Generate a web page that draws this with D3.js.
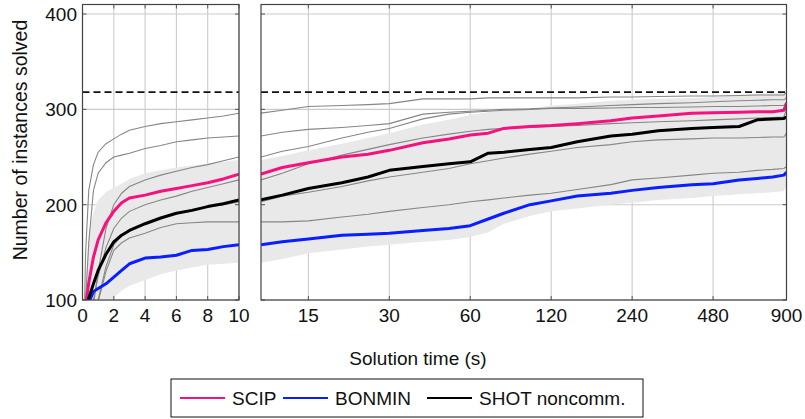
<!DOCTYPE html>
<html>
<head>
<meta charset="utf-8">
<script src="https://cdn.jsdelivr.net/npm/d3@7"></script>
<style>
  body { margin: 0; background: #fff; }
  text { font-family: "Liberation Sans", Arial, sans-serif; fill: #111; }
</style>
</head>
<body>
<div id="chart"></div>
<script>
// time grid (s) shared by all series
var times = [0.1, 0.2, 0.4, 0.7, 1, 1.5, 2, 2.5, 3, 4, 5, 6, 7, 8, 9, 10, 12, 15, 20, 25, 30, 40, 50, 60, 70, 80, 100, 120, 150, 200, 240, 300, 400, 480, 600, 700, 800, 880, 900];

var scip   = [80, 95, 118, 145, 163, 181, 193, 202, 207, 210, 214, 217, 220, 223, 227, 232, 239, 244, 250, 253, 257, 265, 269, 273, 275, 280, 282, 283, 285, 288, 291, 293, 296, 296.5, 297, 297.5, 297.5, 299, 306];
var bonmin = [80, 88, 97, 109, 112, 117, 124, 131, 138, 144, 145, 147, 152, 153, 156, 158, 161, 164, 168, 169, 170, 173, 175, 178, 185, 191, 200, 204, 209, 212, 215, 218, 221, 222, 226, 227.5, 229, 231, 234];
var shot   = [80, 90, 102, 117, 131, 148, 161, 168, 173, 180, 186, 191, 194, 198, 201, 205, 210, 217, 223, 229, 236, 240, 243, 245, 254, 255, 258, 260, 266, 272, 274, 277.5, 280, 281, 282, 289, 290, 290.5, 292];

// other solvers (thin grey)
var others = [
  [70, 150, 215, 242, 255, 264, 269, 274, 278, 282, 285, 287, 289, 291, 293, 296, 299, 303, 304, 305, 306, 311, 311, 311, 312, 312, 312, 312, 312, 313, 313, 313.5, 314, 314, 314.5, 315, 315, 315, 318],
  [70, 100, 160, 215, 233, 244, 250, 252, 254, 259, 262, 266, 268, 270, 271, 272, 276, 279, 281, 283, 285, 295, 297, 298, 299, 300, 300.5, 301.5, 302.5, 304, 305, 306, 307, 308, 309, 309.5, 310, 310, 312],
  [70, 75, 85, 95, 130, 175, 200, 212, 219, 226, 231, 235, 239, 242, 246, 250, 256, 261, 270, 276, 280, 290, 295, 297, 298, 299, 300, 301, 301, 301.5, 302, 302, 302.5, 303, 303, 303.5, 304, 304, 308],
  [70, 75, 85, 100, 125, 155, 175, 186, 193, 200, 205, 209, 214, 218, 222, 226, 233, 243, 252, 258, 263, 270, 274, 277, 279, 280, 281, 282, 283, 285, 286, 287, 288, 289, 290, 291, 291.5, 292, 300],
  [70, 75, 80, 88, 100, 135, 158, 167, 172, 180, 186, 191, 195, 198, 200, 203, 209, 213, 219, 225, 229, 234, 238, 243, 246, 249, 253, 256, 260, 263, 266, 268, 269, 270, 270, 270.5, 271, 271, 275],
  [70, 75, 80, 88, 98, 130, 152, 160, 165, 170, 176, 180, 181, 182, 182, 182, 182, 183, 187, 190, 193, 197, 200, 203, 205, 207, 210, 212, 216, 221, 226, 228, 231, 233, 234, 236, 237, 238, 240]
];

// shaded range
var bandLow  = [90, 92, 94, 96, 97, 99, 102, 110, 115, 121, 127, 131, 134, 137, 138, 139, 143, 149, 153, 156, 158, 161, 163, 166, 171, 180, 188, 193, 196, 200, 202, 205, 207, 209, 211, 212, 213, 214, 220];
var bandHigh = [95, 110, 170, 192, 205, 213, 218, 222, 227, 233, 236, 239, 241, 243, 245, 247, 251, 257, 264, 270, 275, 284, 289, 294, 297, 299, 301, 304, 306, 309, 310, 311, 312, 313, 315, 316, 317, 317, 318];

var totalInstances = 318;
var yTicks = [100, 200, 300, 400];
var leftTicks = [0, 2, 4, 6, 8, 10];
var rightTicks = [15, 30, 60, 120, 240, 480, 900];

var series = [
  {name: "SCIP", values: scip, color: "#f5127e"},
  {name: "BONMIN", values: bonmin, color: "#0a1eff"},
  {name: "SHOT noncomm.", values: shot, color: "#000000"}
];

var W = 805, H = 419;
var svg = d3.select("#chart").append("svg")
  .attr("width", W)
  .attr("height", H);

var y = d3.scaleLinear().domain([100, 410]).range([300, 4.5]);

var panels = [
  {id: "l", x: d3.scaleLinear().domain([0, 10]).range([82.5, 239]), ticks: leftTicks, lo: 0, hi: 10},
  {id: "r", x: d3.scaleLog().domain([10, 900]).range([261, 786.5]), ticks: rightTicks, lo: 10, hi: 900}
];

panels.forEach(function(p) {
  var x = p.x;
  var x0 = x.range()[0], x1 = x.range()[1];
  var g = svg.append("g");

  svg.append("clipPath").attr("id", "clip-" + p.id)
    .append("rect")
    .attr("x", x0).attr("y", y.range()[1])
    .attr("width", x1 - x0).attr("height", y.range()[0] - y.range()[1]);

  // grid
  g.selectAll(".vg").data(p.ticks).enter().append("line")
    .attr("x1", function(d) { return x(d); }).attr("x2", function(d) { return x(d); })
    .attr("y1", y.range()[1]).attr("y2", y.range()[0])
    .attr("stroke", "#cbcbcb").attr("stroke-width", 1.1);
  g.selectAll(".hg").data(yTicks).enter().append("line")
    .attr("x1", x0).attr("x2", x1)
    .attr("y1", function(d) { return y(d); }).attr("y2", function(d) { return y(d); })
    .attr("stroke", "#cbcbcb").attr("stroke-width", 1.1);

  var plot = g.append("g").attr("clip-path", "url(#clip-" + p.id + ")");

  // indices of the time grid inside this panel
  var idx = d3.range(times.length).filter(function(i) {
    return times[i] >= p.lo && times[i] <= p.hi;
  });

  var area = d3.area()
    .x(function(i) { return x(times[i]); })
    .y0(function(i) { return y(bandLow[i]); })
    .y1(function(i) { return y(bandHigh[i]); });
  plot.append("path").datum(idx)
    .attr("d", area)
    .attr("fill", "#e9e9e9");

  function lineOf(vals) {
    return d3.line()
      .x(function(i) { return x(times[i]); })
      .y(function(i) { return y(vals[i]); })(idx);
  }

  others.forEach(function(o) {
    plot.append("path")
      .attr("d", lineOf(o))
      .attr("fill", "none")
      .attr("stroke", "#868686")
      .attr("stroke-width", 1.1);
  });

  // dashed line: number of instances
  plot.append("line")
    .attr("x1", x0).attr("x2", x1)
    .attr("y1", y(totalInstances)).attr("y2", y(totalInstances))
    .attr("stroke", "#111")
    .attr("stroke-width", 1.8)
    .attr("stroke-dasharray", "7,4");

  series.forEach(function(s) {
    plot.append("path")
      .attr("d", lineOf(s.values))
      .attr("fill", "none")
      .attr("stroke", s.color)
      .attr("stroke-width", 3)
      .attr("stroke-linejoin", "round");
  });

  // inward ticks
  p.ticks.forEach(function(t) {
    g.append("line").attr("x1", x(t)).attr("x2", x(t)).attr("y1", y.range()[0]).attr("y2", y.range()[0] - 4).attr("stroke", "#555");
    g.append("line").attr("x1", x(t)).attr("x2", x(t)).attr("y1", y.range()[1]).attr("y2", y.range()[1] + 4).attr("stroke", "#555");
  });
  yTicks.forEach(function(t) {
    g.append("line").attr("x1", x0).attr("x2", x0 + 4).attr("y1", y(t)).attr("y2", y(t)).attr("stroke", "#555");
    g.append("line").attr("x1", x1).attr("x2", x1 - 4).attr("y1", y(t)).attr("y2", y(t)).attr("stroke", "#555");
  });

  // frame
  g.append("rect")
    .attr("x", x0).attr("y", y.range()[1])
    .attr("width", x1 - x0).attr("height", y.range()[0] - y.range()[1])
    .attr("fill", "none").attr("stroke", "#444").attr("stroke-width", 1.2);

  // tick labels
  g.selectAll(".xl").data(p.ticks).enter().append("text")
    .attr("x", function(d) { return x(d); })
    .attr("y", 322)
    .attr("text-anchor", "middle")
    .style("font-size", "19px")
    .text(function(d) { return d; });
});

svg.selectAll(".yl").data(yTicks).enter().append("text")
  .attr("x", 77)
  .attr("y", function(d) { return y(d) + 7; })
  .attr("text-anchor", "end")
  .style("font-size", "19px")
  .text(function(d) { return d; });

// axis titles
svg.append("text")
  .attr("transform", "translate(27,140) rotate(-90)")
  .attr("text-anchor", "middle")
  .style("font-size", "19.5px")
  .text("Number of instances solved");

svg.append("text")
  .attr("x", 418).attr("y", 365)
  .attr("text-anchor", "middle")
  .style("font-size", "19px")
  .text("Solution time (s)");

// legend
var legend = svg.append("g");
legend.append("rect")
  .attr("x", 171).attr("y", 379).attr("width", 472).attr("height", 38)
  .attr("fill", "#fff").attr("stroke", "#111").attr("stroke-width", 1);
var legX = [180, 283, 427];
series.forEach(function(s, i) {
  legend.append("line")
    .attr("x1", legX[i]).attr("x2", legX[i] + 45)
    .attr("y1", 398).attr("y2", 398)
    .attr("stroke", s.color).attr("stroke-width", 2);
  legend.append("text")
    .attr("x", legX[i] + 52).attr("y", 405)
    .style("font-size", "19px")
    .text(s.name);
});
</script>
</body>
</html>
